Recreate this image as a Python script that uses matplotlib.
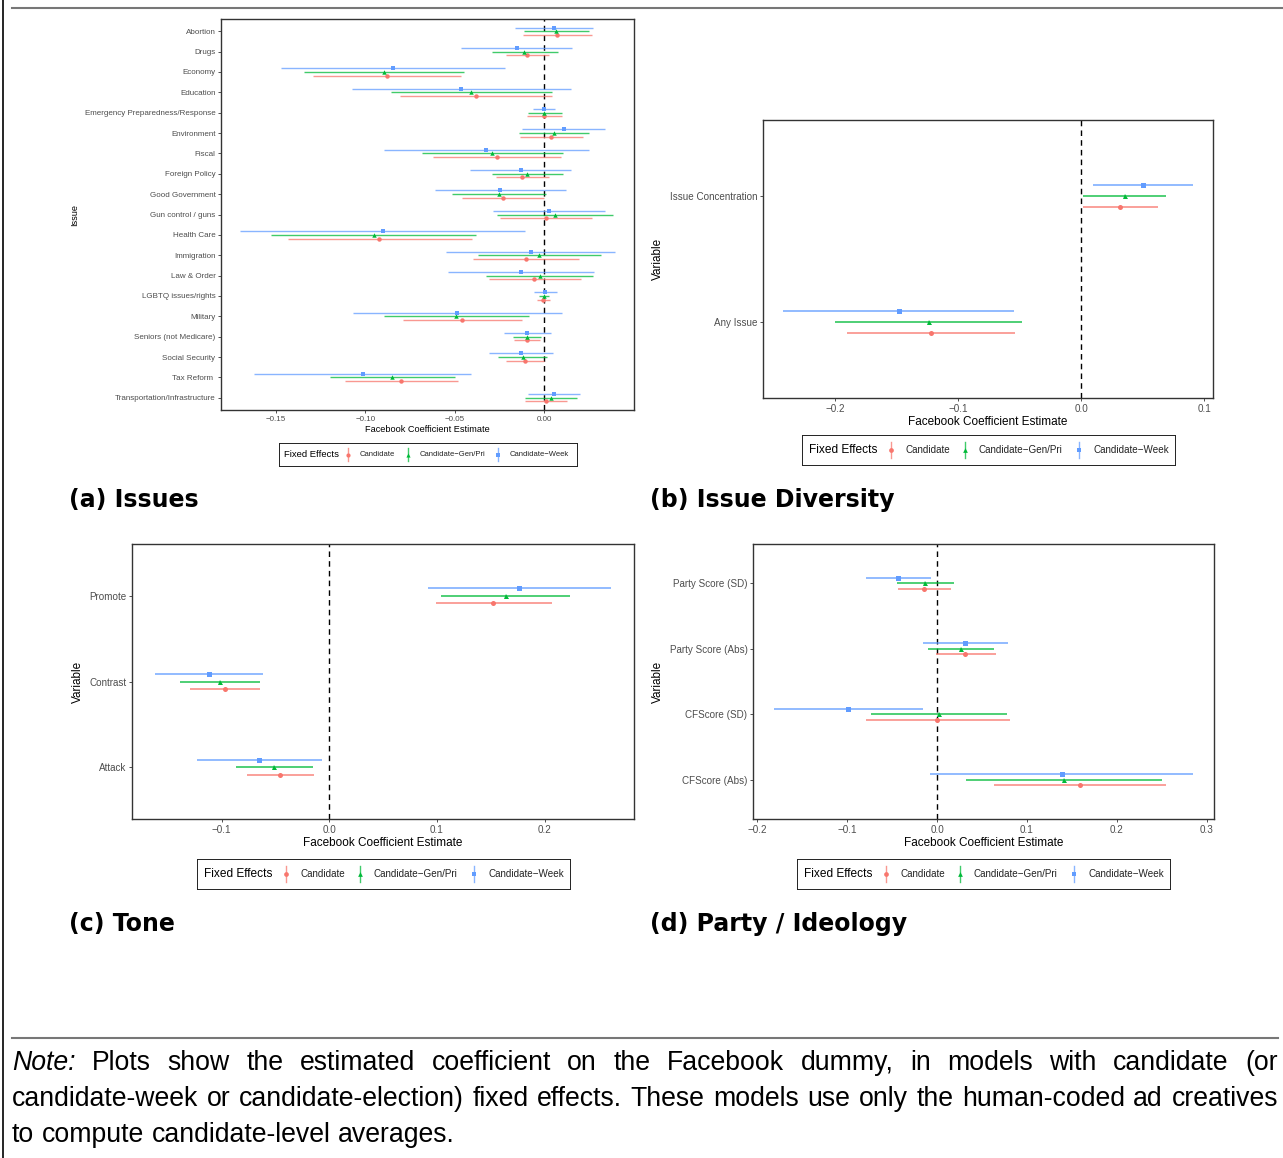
# libraries
import numpy as np
import matplotlib.pyplot as plt
from matplotlib.lines import Line2D

plt.rcParams['font.family'] = ['Liberation Sans', 'DejaVu Sans']

W, H = 1283, 1158

# ---- data ----
# series: Candidate (red), Candidate-Gen/Pri (green), Candidate-Week (blue)
issues = ['Abortion', 'Drugs', 'Economy', 'Education', 'Emergency Preparedness/Response',
          'Environment', 'Fiscal', 'Foreign Policy', 'Good Government', 'Gun control / guns',
          'Health Care', 'Immigration', 'Law & Order', 'LGBTQ issues/rights', 'Military',
          'Seniors (not Medicare)', 'Social Security', 'Tax Reform ', 'Transportation/Infrastructure']
iss_cand_est = [0.0072, -0.0095, -0.0882, -0.0381, 0.0000, 0.0040, -0.0266, -0.0125, -0.0230, 0.0010,
                -0.0922, -0.0103, -0.0056, -0.0006, -0.0459, -0.0095, -0.0107, -0.0799, 0.0008]
iss_cand_lo = [-0.0119, -0.0213, -0.1295, -0.0805, -0.0095, -0.0137, -0.0620, -0.0272, -0.0459, -0.0246,
               -0.1435, -0.0399, -0.0308, -0.0038, -0.0791, -0.0167, -0.0213, -0.1113, -0.0109]
iss_cand_hi = [0.0268, 0.0024, -0.0465, 0.0046, 0.0097, 0.0219, 0.0091, 0.0024, -0.0002, 0.0268,
               -0.0403, 0.0197, 0.0203, 0.0030, -0.0125, -0.0022, -0.0002, -0.0483, 0.0127]
iss_gen_est = [0.0068, -0.0111, -0.0898, -0.0407, -0.0004, 0.0056, -0.0290, -0.0095, -0.0254, 0.0058,
               -0.0954, -0.0028, -0.0026, -0.0002, -0.0491, -0.0095, -0.0121, -0.0850, 0.0038]
iss_gen_lo = [-0.0115, -0.0294, -0.1341, -0.0858, -0.0093, -0.0141, -0.0683, -0.0294, -0.0517, -0.0266,
              -0.1528, -0.0372, -0.0326, -0.0028, -0.0896, -0.0175, -0.0258, -0.1200, -0.0105]
iss_gen_hi = [0.0252, 0.0075, -0.0451, 0.0046, 0.0097, 0.0252, 0.0105, 0.0107, 0.0008, 0.0385,
              -0.0380, 0.0318, 0.0274, 0.0028, -0.0085, -0.0018, 0.0016, -0.0499, 0.0183]
iss_week_est = [0.0054, -0.0153, -0.0848, -0.0465, -0.0002, 0.0109, -0.0326, -0.0131, -0.0246, 0.0026,
                -0.0904, -0.0076, -0.0131, 0.0004, -0.0487, -0.0097, -0.0131, -0.1015, 0.0054]
iss_week_lo = [-0.0163, -0.0463, -0.1474, -0.1077, -0.0064, -0.0127, -0.0898, -0.0413, -0.0612, -0.0288,
               -0.1703, -0.0552, -0.0538, -0.0060, -0.1069, -0.0225, -0.0308, -0.1623, -0.0091]
iss_week_hi = [0.0272, 0.0157, -0.0221, 0.0147, 0.0062, 0.0342, 0.0252, 0.0149, 0.0119, 0.0342,
               -0.0105, 0.0397, 0.0280, 0.0070, 0.0099, 0.0036, 0.0048, -0.0407, 0.0199]

div_vars = ['Issue Concentration', 'Any Issue']
div_cand_est, div_cand_lo, div_cand_hi = [0.0317, -0.1222], [0.0013, -0.1902], [0.0624, -0.0539]
div_gen_est, div_gen_lo, div_gen_hi = [0.0353, -0.1242], [0.0013, -0.2000], [0.0690, -0.0484]
div_week_est, div_week_lo, div_week_hi = [0.0500, -0.1484], [0.0095, -0.2422], [0.0905, -0.0549]

tone_vars = ['Promote', 'Contrast', 'Attack']
tone_cand_est, tone_cand_lo, tone_cand_hi = [0.1523, -0.0972, -0.0455], [0.0989, -0.1290, -0.0766], [0.2065, -0.0641, -0.0138]
tone_gen_est, tone_gen_lo, tone_gen_hi = [0.1637, -0.1013, -0.0510], [0.1034, -0.1383, -0.0866], [0.2238, -0.0641, -0.0152]
tone_week_est, tone_week_lo, tone_week_hi = [0.1760, -0.1117, -0.0652], [0.0917, -0.1620, -0.1227], [0.2618, -0.0614, -0.0066]

ideo_vars = ['Party Score (SD)', 'Party Score (Abs)', 'CFScore (SD)', 'CFScore (Abs)']
ideo_cand_est = [-0.0148, 0.0314, 0.0000, 0.1587]
ideo_cand_lo = [-0.0435, -0.0018, -0.0794, 0.0637]
ideo_cand_hi = [0.0152, 0.0655, 0.0812, 0.2547]
ideo_gen_est = [-0.0130, 0.0265, 0.0022, 0.1408]
ideo_gen_lo = [-0.0444, -0.0099, -0.0731, 0.0318]
ideo_gen_hi = [0.0188, 0.0628, 0.0776, 0.2498]
ideo_week_est = [-0.0430, 0.0314, -0.0991, 0.1386]
ideo_week_lo = [-0.0794, -0.0161, -0.1816, -0.0081]
ideo_week_hi = [-0.0072, 0.0794, -0.0161, 0.2848]

labels = ['Candidate', 'Candidate\u2212Gen/Pri', 'Candidate\u2212Week']
colors = ['#F8766D', '#00BA38', '#619CFF']
markers = ['o', '^', 's']


def px_axes(x0, y0, x1, y1):
    return fig.add_axes([x0 / W, 1 - y1 / H, (x1 - x0) / W, (y1 - y0) / H])


def fmt(v, nd):
    s = '{:.{}f}'.format(v, nd)
    if float(s) == 0:
        s = '{:.{}f}'.format(0, nd)
    return s.replace('-', '\u2212')


def coef_panel(ax, cats, series, dodge, ticks, nd, fs, tfs, ylab, ms, lw):
    n = len(cats)
    ypos = np.arange(n)[::-1]
    offs = [-dodge, 0, dodge]
    allv = []
    for (est, lo, hi), c, m, o in zip(series, colors, markers, offs):
        y = ypos + o
        ax.hlines(y, lo, hi, color=c, lw=lw, alpha=0.75, zorder=2)
        ax.plot(est, y, ls='none', marker=m, color=c, ms=ms, mew=0, zorder=3)
        allv += list(lo) + list(hi)
    lo_, hi_ = min(allv), max(allv)
    pad = 0.05 * (hi_ - lo_)
    ax.set_xlim(lo_ - pad, hi_ + pad)
    ax.set_ylim(-0.6, n - 1 + 0.6)
    ax.axvline(0, color='black', ls=(0, (4, 3)), lw=1.0, zorder=1)
    ax.set_yticks(ypos)
    ax.set_yticklabels(cats)
    ax.set_xticks(ticks)
    ax.set_xticklabels([fmt(t, nd) for t in ticks])
    ax.tick_params(axis='both', labelsize=fs, colors='#333333', labelcolor='#4D4D4D',
                   length=2.5, width=0.6, pad=1.5)
    for sp in ax.spines.values():
        sp.set_color('#333333')
        sp.set_linewidth(1.0)
    ax.set_xlabel('Facebook Coefficient Estimate', fontsize=tfs, labelpad=1.5)
    ax.set_ylabel(ylab, fontsize=tfs, labelpad=4)


def legend_box(x0, y0, x1, y1, tfs, lfs, ms, keys, off):
    lax = px_axes(x0, y0, x1, y1)
    lax.set_xlim(0, 1)
    lax.set_ylim(0, 1)
    lax.set_xticks([])
    lax.set_yticks([])
    for sp in lax.spines.values():
        sp.set_linewidth(0.7)
        sp.set_color('#222222')
    lax.text(0.018, 0.5, 'Fixed Effects', fontsize=tfs, va='center', ha='left')
    for kx, lab, c, m in zip(keys, labels, colors, markers):
        lax.plot([kx, kx], [0.22, 0.78], color=c, lw=1.0, alpha=0.75)
        lax.plot(kx, 0.5, marker=m, color=c, ms=ms, mew=0)
        lax.text(kx + off, 0.5, lab, fontsize=lfs, va='center', ha='left', color='#222222')


fig = plt.figure(figsize=(W / 100, H / 100), dpi=100)

keys_small = [0.232, 0.433, 0.735]
keys_big = [0.239, 0.437, 0.743]

# (a) Issues
ax_a = px_axes(221, 19, 634, 410)
coef_panel(ax_a, issues,
           [(iss_cand_est, iss_cand_lo, iss_cand_hi),
            (iss_gen_est, iss_gen_lo, iss_gen_hi),
            (iss_week_est, iss_week_lo, iss_week_hi)],
           0.18, [-0.15, -0.10, -0.05, 0.00], 2, 5.8, 6.6, 'Issue', 3.2, 1.0)
legend_box(279, 443, 577, 466, 6.8, 5.5, 3.0, keys_small, 0.04)

# (b) Issue Diversity
ax_b = px_axes(763, 120, 1213, 398)
coef_panel(ax_b, div_vars,
           [(div_cand_est, div_cand_lo, div_cand_hi),
            (div_gen_est, div_gen_lo, div_gen_hi),
            (div_week_est, div_week_lo, div_week_hi)],
           0.085, [-0.2, -0.1, 0.0, 0.1], 1, 7.1, 8.5, 'Variable', 3.6, 1.3)
legend_box(802, 435, 1175, 465, 8.6, 7.1, 3.4, keys_big, 0.0375)

# (c) Tone
ax_c = px_axes(132, 544, 634, 819)
coef_panel(ax_c, tone_vars,
           [(tone_cand_est, tone_cand_lo, tone_cand_hi),
            (tone_gen_est, tone_gen_lo, tone_gen_hi),
            (tone_week_est, tone_week_lo, tone_week_hi)],
           0.085, [-0.1, 0.0, 0.1, 0.2], 1, 7.1, 8.5, 'Variable', 3.6, 1.3)
legend_box(197, 859, 570, 889, 8.6, 7.1, 3.4, keys_big, 0.0375)

# (d) Party / Ideology
ax_d = px_axes(753, 544, 1214, 819)
coef_panel(ax_d, ideo_vars,
           [(ideo_cand_est, ideo_cand_lo, ideo_cand_hi),
            (ideo_gen_est, ideo_gen_lo, ideo_gen_hi),
            (ideo_week_est, ideo_week_lo, ideo_week_hi)],
           0.085, [-0.2, -0.1, 0.0, 0.1, 0.2, 0.3], 1, 7.1, 8.5, 'Variable', 3.6, 1.3)
legend_box(797, 859, 1170, 889, 8.6, 7.1, 3.4, keys_big, 0.0375)

# sub-captions
for x, y, s in [(69, 500, '(a) Issues'), (650, 500, '(b) Issue Diversity'),
                (69, 924, '(c) Tone'), (650, 924, '(d) Party / Ideology')]:
    fig.text(x / W, 1 - y / H, s, fontsize=17, fontweight='bold', family='DejaVu Sans',
             ha='left', va='center')

# float frame lines
fig.add_artist(Line2D([3 / W, 3 / W], [0, 1], color='black', lw=1.2))
fig.add_artist(Line2D([12 / W, 1], [1 - 8 / H, 1 - 8 / H], color='#777777', lw=1.5))
fig.add_artist(Line2D([12 / W, 1278 / W], [1 - 1038 / H, 1 - 1038 / H], color='#777777', lw=1.5))

# note, justified like the LaTeX source
note_lines = [
    'Note: Plots show the estimated coefficient on the Facebook dummy, in models with candidate (or',
    'candidate-week or candidate-election) fixed effects. These models use only the human-coded ad creatives',
    'to compute candidate-level averages.',
]
renderer = fig.canvas.get_renderer()
x_left, x_right = 12, 1278

# pick a size: last line about 448 px wide, but line 2 must still fit
probe = fig.text(0, 0, note_lines[2], fontsize=10)
w3 = probe.get_window_extent(renderer).width
probe.set_text(note_lines[1])
w2 = probe.get_window_extent(renderer).width
probe.remove()
note_fs = min(10 * 448 / w3, 10 * 1255 / w2)

for i, line in enumerate(note_lines):
    y = 1 - (1063 + 36 * i) / H
    words = line.split(' ')
    arts = []
    for j, w in enumerate(words):
        style = 'italic' if (i == 0 and j == 0) else 'normal'
        arts.append(fig.text(0, y, w, fontsize=note_fs, style=style, ha='left', va='center'))
    widths = [a.get_window_extent(renderer).width for a in arts]
    if i < len(note_lines) - 1:
        gap = (x_right - x_left - sum(widths)) / (len(words) - 1)
    else:
        gap = note_fs * 0.28 * 100 / 72
    x = x_left
    for a, w in zip(arts, widths):
        a.set_x(x / W)
        x += w + gap

fig.savefig('out.png', dpi=100)
